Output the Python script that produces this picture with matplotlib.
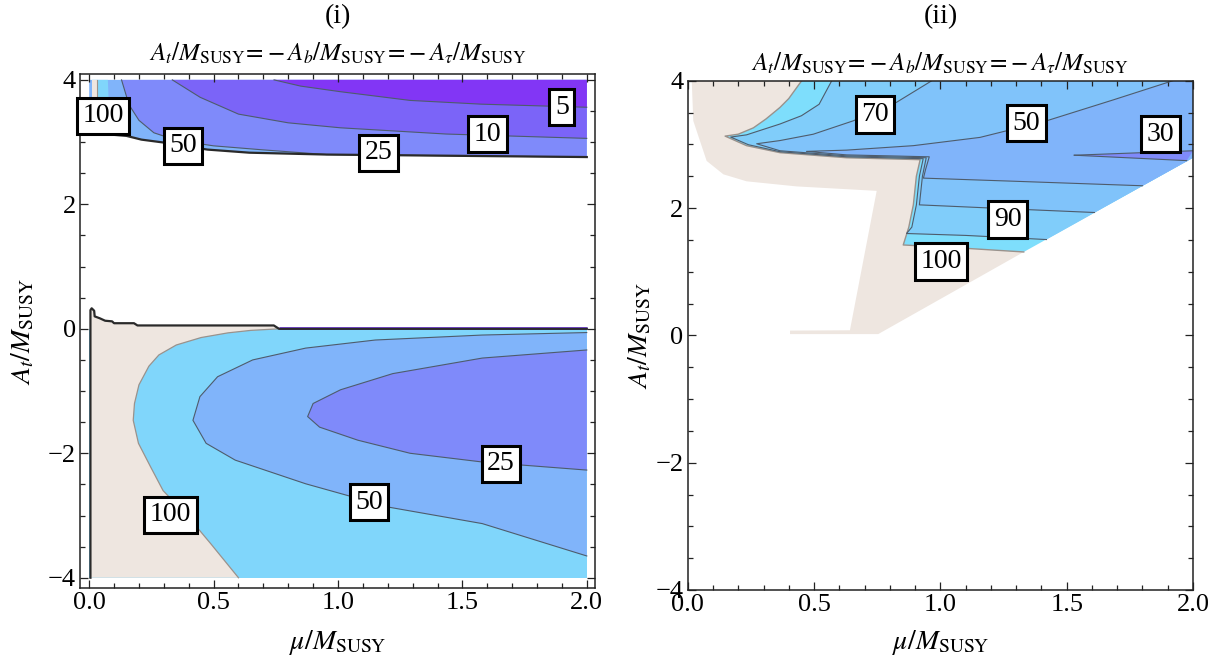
import numpy as np
import matplotlib
matplotlib.use("Agg")
import matplotlib.pyplot as plt
from matplotlib.ticker import MultipleLocator

plt.rcParams["font.family"] = ["Liberation Serif", "DejaVu Serif"]
plt.rcParams["mathtext.fontset"] = "stix"
plt.rcParams["axes.unicode_minus"] = True

BEIGE = "#eee6e0"
CYAN = "#80d6fb"
BRIGHT = "#7edefc"
LBLUE = "#80cdfa"
MBLUE = "#80b4fa"
PERI = "#7f8afa"
VIOL = "#7b64f8"
DVIOL = "#8236f5"
LINE = "#4e5c6c"

# ---------------- panel (i): A_t < 0 part ----------------
LOW_MU = [0.0, 2.0, 2.0, 0.0]
LOW_Y = [-4.0, -4.0, 0.0, 0.0]
BLACK_MU = [0.005, 0.005, 0.01, 0.02, 0.022, 0.042, 0.064, 0.092, 0.10, 0.18, 0.194, 0.742, 0.763]
BLACK_Y = [-4.0, 0.30, 0.33, 0.29, 0.20, 0.17, 0.13, 0.12, 0.09, 0.09, 0.054, 0.054, 0.0]
C100_MU = [0.763, 0.65, 0.558, 0.45, 0.35, 0.28, 0.24, 0.20, 0.182, 0.177, 0.198, 0.247, 0.297, 0.40, 0.49, 0.60]
C100_Y = [0.0, -0.025, -0.065, -0.14, -0.26, -0.42, -0.60, -0.90, -1.20, -1.47, -1.84, -2.22, -2.60, -3.03, -3.46, -4.0]
C50_MU = [2.0, 1.58, 1.15, 0.87, 0.657, 0.516, 0.445, 0.417, 0.47, 0.587, 0.87, 1.21, 1.58, 2.0]
C50_Y = [-0.06, -0.10, -0.18, -0.31, -0.50, -0.77, -1.09, -1.47, -1.84, -2.11, -2.49, -2.87, -3.13, -3.65]
C25_MU = [2.0, 1.58, 1.22, 1.01, 0.90, 0.878, 0.926, 1.08, 1.29, 1.58, 2.0]
C25_Y = [-0.34, -0.47, -0.72, -0.98, -1.20, -1.41, -1.58, -1.79, -2.00, -2.14, -2.27]
STRIP_MU = [0.763, 2.0]
STRIP_Y = [0.018, 0.018]

# ---------------- panel (i): A_t > 0 part ----------------
UB_MU = [0.0, 0.15, 0.21, 0.305, 0.475, 0.644, 0.954, 2.0]
UB_Y = [3.15, 3.10, 3.04, 2.99, 2.88, 2.83, 2.80, 2.76]
CYAN_TOP_MU = [0.012, 0.075, 0.08, 0.012]
CYAN_TOP_Y = [4.0, 4.0, 3.5, 3.5]
BEIGE_TOP_MU = [0.012, 0.03, 0.03, 0.012]
BEIGE_TOP_Y = [4.0, 4.0, 3.72, 3.72]
CA_MU = [0.13, 0.16, 0.20, 0.26, 0.35, 0.50, 0.70, 0.954, 2.0]
CA_Y = [4.0, 3.60, 3.35, 3.15, 3.03, 2.94, 2.875, 2.80, 2.76]
CB_MU = [0.334, 0.446, 0.60, 0.80, 1.01, 1.434, 2.0]
CB_Y = [4.0, 3.72, 3.45, 3.31, 3.23, 3.13, 3.06]
CC_MU = [0.743, 0.85, 1.01, 1.29, 1.575, 2.0]
CC_Y = [4.0, 3.90, 3.81, 3.67, 3.61, 3.56]

LEFT_LABELS = ["100", "50", "25", "10", "5", "100", "50", "25"]
LEFT_LABEL_MU = [0.055, 0.377, 1.162, 1.60, 1.90, 0.326, 1.125, 1.655]
LEFT_LABEL_Y = [3.42, 2.94, 2.83, 3.13, 3.56, -2.99, -2.79, -2.17]

# ---------------- panel (ii) ----------------
BEIGE_R_MU = [0.016, 0.022, 0.075, 0.141, 0.233, 0.431, 0.748, 0.642, 0.405, 0.405, 0.754, 1.33, 1.0, 0.6]
BEIGE_R_Y = [4.0, 3.37, 2.74, 2.53, 2.42, 2.34, 2.27, 0.08, 0.075, 0.02, 0.02, 1.31, 2.9, 4.0]
EDGE_MU = [2.0, 2.0]
EDGE_Y = [2.79, 4.0]
L100_MU = [0.451, 0.40, 0.365, 0.31, 0.26, 0.20, 0.148, 0.233, 0.365, 0.629, 0.92,
           0.905, 0.893, 0.875, 0.853, 1.09, 1.33]
L100_Y = [4.0, 3.72, 3.58, 3.40, 3.26, 3.16, 3.13, 2.98, 2.87, 2.79, 2.76,
          2.50, 2.05, 1.70, 1.42, 1.37, 1.31]
L90_MU = [0.57, 0.52, 0.45, 0.365, 0.233, 0.17, 0.240, 0.365, 0.629, 0.932,
          0.917, 0.905, 0.887, 0.866, 1.10, 1.42]
L90_Y = [4.0, 3.63, 3.45, 3.32, 3.15, 3.115, 2.995, 2.885, 2.805, 2.775,
         2.50, 2.05, 1.70, 1.60, 1.57, 1.505]
L70_MU = [0.966, 0.826, 0.655, 0.497, 0.365, 0.273, 0.365, 0.629, 0.944, 0.929, 0.917, 1.20, 1.61]
L70_Y = [4.0, 3.66, 3.37, 3.16, 3.06, 3.01, 2.90, 2.82, 2.79, 2.50, 2.05, 2.00, 1.93]
L50_MU = [1.92, 1.685, 1.42, 1.157, 0.893, 0.629, 0.47, 0.629, 0.956, 0.941, 0.933, 1.30, 1.80]
L50_Y = [4.0, 3.70, 3.37, 3.11, 2.98, 2.91, 2.89, 2.835, 2.805, 2.60, 2.47, 2.42, 2.35]
L30_MU = [2.0, 1.53, 1.975]
L30_Y = [2.90, 2.83, 2.745]

RIGHT_LABELS = ["70", "50", "30", "90", "100"]
RIGHT_LABEL_MU = [0.741, 1.34, 1.871, 1.267, 1.002]
RIGHT_LABEL_Y = [3.47, 3.33, 3.16, 1.82, 1.16]

TICK_FS = 19
LABEL_FS = 20


def frame(ax, xlim, ylim, ylab_x, xlab_y):
    ax.set_xlim(*xlim)
    ax.set_ylim(*ylim)
    ax.xaxis.set_major_locator(MultipleLocator(0.5))
    ax.xaxis.set_minor_locator(MultipleLocator(0.1))
    ax.yaxis.set_major_locator(MultipleLocator(2))
    ax.yaxis.set_minor_locator(MultipleLocator(0.5))
    ax.tick_params(which="both", direction="in", top=True, right=True, color="#222", width=0.9)
    ax.tick_params(which="major", length=6, labelsize=TICK_FS, pad=3)
    ax.tick_params(which="minor", length=3.5)
    ax.xaxis.set_major_formatter(matplotlib.ticker.FormatStrFormatter("%.1f"))
    ax.yaxis.set_major_formatter(matplotlib.ticker.FuncFormatter(lambda v, p: f"{v:.0f}".replace("-", "\u2212")))
    for s in ax.spines.values():
        s.set_linewidth(1.1)
        s.set_color("#222")
    ax.set_xlabel(r"$\mu/M_{\mathrm{SUSY}}$", fontsize=LABEL_FS, va="center")
    ax.set_ylabel(r"$A_t/M_{\mathrm{SUSY}}$", fontsize=LABEL_FS, va="center")
    ax.yaxis.set_label_coords(ylab_x, 0.5)
    ax.xaxis.set_label_coords(0.5, xlab_y)


def labels(ax, txts, xs, ys):
    for t, x, y in zip(txts, xs, ys):
        ax.text(x, y, t, ha="center", va="center", fontsize=20, zorder=10,
                bbox=dict(boxstyle="square,pad=0.2", fc="white", ec="black", lw=2.2))


fig = plt.figure(figsize=(12.25, 6.65), dpi=100)
sub = r"$A_t/M_{\mathrm{SUSY}}\!=\!-A_b/M_{\mathrm{SUSY}}\!=\!-A_\tau/M_{\mathrm{SUSY}}$"

# panel (i)
ax1 = fig.add_axes([0.0653, 0.1153, 0.4204, 0.773])
ax1.fill(LOW_MU, LOW_Y, color=CYAN, lw=0)
ax1.fill(BLACK_MU + C100_MU, BLACK_Y + C100_Y, color=BEIGE, lw=0)
ax1.fill(C50_MU, C50_Y, color=MBLUE, lw=0)
ax1.fill(C25_MU, C25_Y, color=PERI, lw=0)
ax1.plot(C100_MU, C100_Y, color="#9a928c", lw=0.9)
ax1.plot(C50_MU, C50_Y, color=LINE, lw=0.8)
ax1.plot(C25_MU, C25_Y, color=LINE, lw=0.8)
ax1.plot(STRIP_MU, STRIP_Y, color="#7b3cf5", lw=2.0, solid_capstyle="butt")
ax1.plot(BLACK_MU + [2.0], BLACK_Y + [0.0], color="#2a2a2a", lw=1.6)

ax1.fill(UB_MU + [2.0, 0.0], UB_Y + [4.0, 4.0], color=MBLUE, lw=0)
ax1.fill(CYAN_TOP_MU, CYAN_TOP_Y, color=CYAN, lw=0)
ax1.fill(BEIGE_TOP_MU, BEIGE_TOP_Y, color=BEIGE, lw=0)
ax1.plot(BEIGE_TOP_MU[1:3], BEIGE_TOP_Y[1:3], color="#9a928c", lw=0.8)
ax1.fill(CA_MU + [2.0], CA_Y + [4.0], color=PERI, lw=0)
ax1.fill(CB_MU + [2.0], CB_Y + [4.0], color=VIOL, lw=0)
ax1.fill(CC_MU + [2.0], CC_Y + [4.0], color=DVIOL, lw=0)
for mu, y in [(CA_MU, CA_Y), (CB_MU, CB_Y), (CC_MU, CC_Y)]:
    ax1.plot(mu, y, color=LINE, lw=0.8)
ax1.plot(UB_MU, UB_Y, color="#2a2a2a", lw=1.6)
labels(ax1, LEFT_LABELS, LEFT_LABEL_MU, LEFT_LABEL_Y)
frame(ax1, (-0.037, 2.033), (-4.17, 4.09), -0.11, -0.105)
fig.text(0.2755, 0.975, "(i)", ha="center", va="center", fontsize=LABEL_FS)
fig.text(0.2755, 0.92, sub, ha="center", va="center", fontsize=18)

# panel (ii)
ax2 = fig.add_axes([0.5614, 0.1128, 0.4125, 0.7658])
ax2.fill(BEIGE_R_MU, BEIGE_R_Y, color=BEIGE, lw=0)
ax2.fill(L100_MU + EDGE_MU, L100_Y + EDGE_Y, color=BRIGHT, lw=0)
ax2.fill(L90_MU + EDGE_MU, L90_Y + EDGE_Y, color=LBLUE, lw=0)
ax2.fill(L70_MU + EDGE_MU, L70_Y + EDGE_Y, color="#80c3fa", lw=0)
ax2.fill(L50_MU + EDGE_MU, L50_Y + EDGE_Y, color=MBLUE, lw=0)
ax2.fill(L30_MU, L30_Y, color=PERI, lw=0)
ax2.plot(L100_MU, L100_Y, color="#9a928c", lw=1.0)
for mu, y in [(L90_MU, L90_Y), (L70_MU, L70_Y), (L50_MU, L50_Y), (L30_MU[:2], L30_Y[:2]), (L30_MU[1:], L30_Y[1:])]:
    ax2.plot(mu, y, color=LINE, lw=0.8)
labels(ax2, RIGHT_LABELS, RIGHT_LABEL_MU, RIGHT_LABEL_Y)
frame(ax2, (0.0, 2.0), (-4.0, 4.0), -0.094, -0.104)
fig.text(0.7677, 0.975, "(ii)", ha="center", va="center", fontsize=LABEL_FS)
fig.text(0.7677, 0.905, sub, ha="center", va="center", fontsize=18)

fig.savefig("out.png", dpi=100)
